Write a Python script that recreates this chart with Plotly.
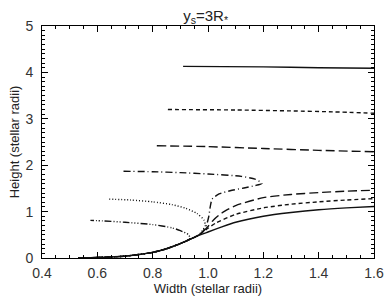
import plotly.graph_objects as go

# Shared lower part of all curves
base_x = [0.53, 0.6, 0.7, 0.8, 0.85, 0.9, 0.93, 0.96]
base_y = [0.0, 0.01, 0.04, 0.12, 0.2, 0.31, 0.39, 0.47]

solid_x = base_x + [1.0, 1.05, 1.1, 1.2, 1.3, 1.4, 1.5, 1.6, None, 0.91, 1.2, 1.4, 1.6]
solid_y = base_y + [0.56, 0.67, 0.77, 0.9, 0.98, 1.04, 1.08, 1.11, None, 4.13, 4.12, 4.10, 4.09]

sdash_x = base_x + [0.98, 1.0, 1.03, 1.1, 1.2, 1.3, 1.4, 1.5, 1.6, None, 0.855, 1.1, 1.3, 1.45, 1.6]
sdash_y = base_y + [0.55, 0.64, 0.76, 0.94, 1.08, 1.16, 1.21, 1.25, 1.28, None, 3.20, 3.19, 3.17, 3.15, 3.12]

ldash_x = base_x + [0.98, 1.0, 1.02, 1.05, 1.1, 1.2, 1.3, 1.4, 1.5, 1.6, None, 0.815, 1.0, 1.2, 1.4, 1.6]
ldash_y = base_y + [0.56, 0.68, 0.82, 0.97, 1.13, 1.3, 1.37, 1.41, 1.44, 1.46, None, 2.42, 2.40, 2.36, 2.32, 2.29]

dashdot_x = base_x + [0.98, 0.995, 1.003, 1.008, 1.015, 1.04, 1.08, 1.13, 1.17, 1.195, 1.17, 1.12, 1.0, 0.9, 0.8, 0.69]
dashdot_y = base_y + [0.56, 0.72, 0.9, 1.1, 1.27, 1.38, 1.45, 1.51, 1.56, 1.61, 1.70, 1.76, 1.81, 1.84, 1.86, 1.87]

dot_x = base_x + [0.975, 0.99, 0.985, 0.96, 0.92, 0.87, 0.8, 0.72, 0.64]
dot_y = base_y + [0.55, 0.7, 0.82, 0.96, 1.07, 1.15, 1.21, 1.25, 1.27]

d3dot_x = base_x[:7] + [0.935, 0.93, 0.9, 0.87, 0.8, 0.7, 0.62, 0.575]
d3dot_y = base_y[:7] + [0.43, 0.5, 0.59, 0.65, 0.72, 0.77, 0.8, 0.81]

x_ticks = [0.4, 0.6, 0.8, 1.0, 1.2, 1.4, 1.6]
x_labels = ["0.4", "0.6", "0.8", "1.0", "1.2", "1.4", "1.6"]
y_ticks = [0, 1, 2, 3, 4, 5]

series = [
    (solid_x, solid_y, "solid"),
    (sdash_x, sdash_y, "4px,3px"),
    (ldash_x, ldash_y, "9px,4px"),
    (dashdot_x, dashdot_y, "7px,3px,1px,3px"),
    (dot_x, dot_y, "1px,2px"),
    (d3dot_x, d3dot_y, "7px,2px,1px,2px,1px,2px,1px,2px"),
]

fig = go.Figure()
for xs, ys, dash in series:
    fig.add_trace(go.Scatter(x=xs, y=ys, mode="lines",
                             line=dict(color="#111", width=1.4, dash=dash, shape="spline", smoothing=0.6),
                             showlegend=False, hoverinfo="skip", cliponaxis=False))

font_family = "Liberation Sans, Arial, sans-serif"
axis_common = dict(showline=True, linecolor="black", linewidth=1, mirror="ticks",
                   ticks="inside", ticklen=6, tickcolor="black", showgrid=False, zeroline=False,
                   automargin=False,
                   tickfont=dict(family=font_family, size=14, color="#333"))
fig.update_layout(
    width=388, height=301,
    margin=dict(l=42, r=14, t=26, b=43),
    paper_bgcolor="white", plot_bgcolor="white",
    title=dict(text="y<sub>s</sub>=3R<sub>*</sub>", x=0.53, xanchor="center", y=0.965, yanchor="top",
               automargin=False,
               font=dict(family=font_family, size=15, color="#222")),
    xaxis=dict(range=[0.4, 1.6], tickvals=x_ticks, ticktext=x_labels, ticklabelstandoff=2,
               minor=dict(dtick=0.05, ticks="inside", ticklen=3, tickcolor="black"),
               title=dict(text="Width (stellar radii)", standoff=2,
                          font=dict(family=font_family, size=13, color="#222")),
               **axis_common),
    yaxis=dict(range=[0, 5], tickvals=y_ticks, ticklabelstandoff=5,
               minor=dict(dtick=0.1, ticks="inside", ticklen=3, tickcolor="black"),
               title=dict(text="Height (stellar radii)", standoff=2,
                          font=dict(family=font_family, size=13, color="#222")),
               **axis_common),
)

fig.write_html("out.html", config={"displayModeBar": False},
               post_script="document.body.style.margin='0';document.body.style.overflow='hidden';")
